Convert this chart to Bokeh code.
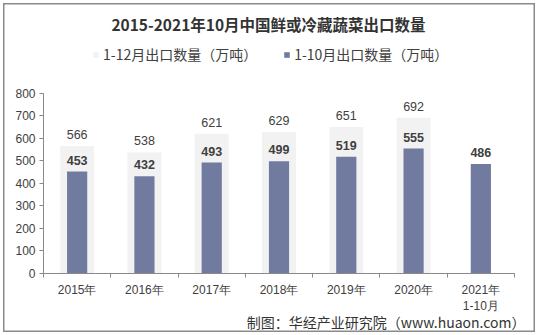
from bokeh.plotting import figure
from bokeh.models import (ColumnDataSource, FactorRange, Range1d, LinearAxis,
                          FixedTicker, LabelSet, Label, Legend, LegendItem, Title)
from bokeh.core.properties import value
from bokeh.embed import file_html
from bokeh.resources import INLINE

# ---- data ----
years = ["2015年", "2016年", "2017年", "2018年", "2019年", "2020年", "2021年\n1-10月"]
full_year = [566, 538, 621, 629, 651, 692, None]      # 1-12月出口数量（万吨）
jan_to_oct = [453, 432, 493, 499, 519, 555, 486]      # 1-10月出口数量（万吨）
y_ticks = [0, 100, 200, 300, 400, 500, 600, 700, 800]

title_text = "2015-2021年10月中国鲜或冷藏蔬菜出口数量"
series_names = ["1-12月出口数量（万吨）", "1-10月出口数量（万吨）"]
source_text = "制图：华经产业研究院（www.huaon.com）"

# ---- styles ----
W, H = 538, 335
GRAY_BAR = "#F2F2F2"
BLUE_BAR = "#717BA0"
AXIS_COL = "#898989"
TEXT_COL = "#404040"
NUM_FONT = "Liberation Sans"
CJK_FONT = "Noto Sans CJK SC"

FRAME_BOTTOM = 62          # px below the plotting area (axis labels + source note)
Y_TOP = 1213               # headroom above 800 leaves room for the title and legend

src = ColumnDataSource(dict(
    cat=years,
    full=[float("nan") if v is None else v for v in full_year],
    oct=jan_to_oct,
    full_txt=["" if v is None else str(v) for v in full_year],
    oct_txt=[str(v) for v in jan_to_oct],
))

# transparent canvas so the host's inset frame line shows through
p = figure(width=W, height=H, x_range=FactorRange(*years, range_padding=0),
           y_range=Range1d(0, Y_TOP), output_backend="svg", toolbar_location=None,
           x_axis_location=None, min_border_left=43, min_border_right=24,
           min_border_top=0, min_border_bottom=FRAME_BOTTOM,
           styles={"background-color": "white",
                   "box-shadow": "inset 0 0 0 3px white, inset 0 0 0 4.5px #8a8a8a"})
p.background_fill_alpha = 0
p.border_fill_alpha = 0
p.outline_line_color = None
p.grid.visible = False

# bars
r_full = p.vbar(x="cat", top="full", width=0.505, source=src, fill_color=GRAY_BAR, line_color=None)
r_oct = p.vbar(x="cat", top="oct", width=0.30, source=src, fill_color=BLUE_BAR, line_color=None)

# value labels
p.add_layout(LabelSet(x="cat", y="full", text="full_txt", source=src, y_offset=7,
                      text_align="center", text_baseline="bottom",
                      text_font=value(NUM_FONT), text_font_size="12.5px",
                      text_color=TEXT_COL))
p.add_layout(LabelSet(x="cat", y="oct", text="oct_txt", source=src, y_offset=7,
                      text_align="center", text_baseline="bottom",
                      text_font=value(NUM_FONT), text_font_size="12.5px",
                      text_font_style="bold", text_color=TEXT_COL))

# y axis, drawn only over 0-800
ya = p.yaxis[0]
ya.ticker = FixedTicker(ticks=y_ticks)
ya.bounds = (0, 800)
ya.axis_line_color = AXIS_COL
ya.major_tick_line_color = AXIS_COL
ya.major_tick_out = 4
ya.major_tick_in = 0
ya.minor_tick_line_color = None
ya.major_label_standoff = 4
ya.major_label_text_font = NUM_FONT
ya.major_label_text_font_size = "12px"
ya.major_label_text_color = TEXT_COL

# x axis on the factor range's synthetic coordinates:
# tick marks on category boundaries, labels at category centres
n = len(years)
centers = [i + 0.5 for i in range(n)]
xa = LinearAxis(ticker=FixedTicker(ticks=centers, minor_ticks=list(range(n + 1))),
                major_label_overrides={c: lab for c, lab in zip(centers, years)})
xa.axis_line_color = AXIS_COL
xa.major_tick_line_color = None
xa.major_tick_out = 0
xa.major_tick_in = 0
xa.minor_tick_line_color = AXIS_COL
xa.minor_tick_out = 4
xa.minor_tick_in = 0
xa.major_label_standoff = 5
xa.major_label_text_font = NUM_FONT
xa.major_label_text_font_size = "12px"
xa.major_label_text_color = TEXT_COL
p.add_layout(xa, "below")

# source note under the axis
p.add_layout(Title(text=source_text, align="right", text_font=CJK_FONT,
                   text_font_size="14px", text_font_style="normal",
                   text_color="#333333", standoff=-14, offset=-11), "below")

# chart title (screen units are relative to the plotting area)
p.add_layout(Label(x=225, y=250, x_units="screen", y_units="screen", text=title_text,
                   text_align="center", text_baseline="middle", text_font=CJK_FONT,
                   text_font_size="15.5px", text_font_style="bold", text_color="#333333"))

# legend
legend = Legend(items=[LegendItem(label=series_names[0], renderers=[r_full]),
                       LegendItem(label=series_names[1], renderers=[r_oct])],
                location=(49, 209), orientation="horizontal",
                glyph_width=7, glyph_height=7, label_standoff=4, spacing=26,
                padding=0, margin=0, label_height=20,
                label_text_font=CJK_FONT, label_text_font_size="14px",
                label_text_color=TEXT_COL, background_fill_alpha=0,
                border_line_color=None)
p.add_layout(legend)

open("out.html", "w").write(file_html(p, INLINE))
